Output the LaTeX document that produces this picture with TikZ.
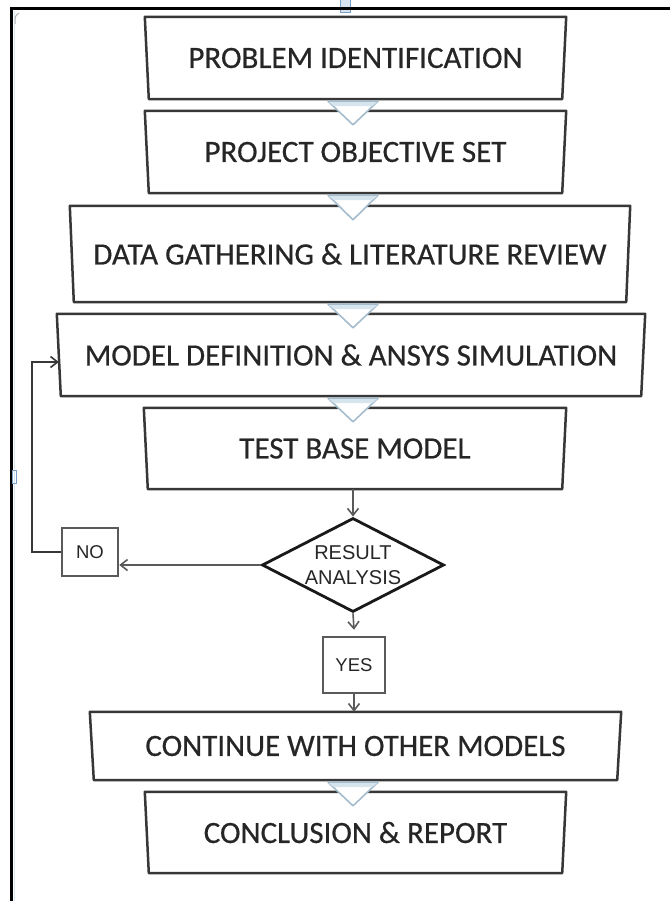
\documentclass[tikz,border=0pt]{standalone}
\usepackage{fontspec}
\setmainfont{Carlito}
\newfontfamily\stepfont[FakeBold=0.5]{Carlito}
\newfontfamily\arialfont{Liberation Sans}
\usetikzlibrary{shapes.geometric,arrows.meta,calc}
\definecolor{inkgray}{RGB}{38,38,38}
\definecolor{edgegray}{RGB}{55,55,55}
\definecolor{softgray}{RGB}{90,90,90}
\definecolor{chevron}{RGB}{165,188,205}
\definecolor{chevronband}{RGB}{214,228,238}
\definecolor{handle}{RGB}{120,160,200}
\definecolor{handlefaint}{RGB}{215,232,242}
\begin{document}
\begin{tikzpicture}[x=1pt,y=-1pt,
  stepbox/.style={rectangle, inner sep=0pt, text=inkgray,
    font=\stepfont\fontsize{31}{36}\selectfont},
  outline/.style={draw=edgegray, line width=2.5pt, line join=round},
  chev/.style={draw=chevron, fill=white, line width=1.6pt, line join=round},
  flow/.style={draw=softgray, line width=1.6pt,
    -{Straight Barb[length=7pt,width=11pt]}},
  tag/.style={rectangle, draw=softgray, line width=2.5pt, inner sep=0pt,
    text=inkgray, font=\arialfont\fontsize{18.5}{22}\selectfont},
  decision/.style={diamond, draw=black!90, line width=2.8pt, inner sep=0pt},
]
\useasboundingbox (0,0) rectangle (670,901);
\fill[white] (0,0) rectangle (670,901);

% process steps
\node[stepbox, minimum width=421pt, minimum height=82pt] (b1) at (355.5,58) {PROBLEM IDENTIFICATION};
\node[stepbox, minimum width=421pt, minimum height=82pt] (b2) at (355.5,152) {PROJECT OBJECTIVE SET};
\node[stepbox, minimum width=560pt, minimum height=96pt] (b3) at (350,254) {DATA GATHERING \& LITERATURE REVIEW};
\node[stepbox, minimum width=588pt, minimum height=82pt] (b4) at (351,355) {MODEL DEFINITION \& ANSYS SIMULATION};
\node[stepbox, minimum width=422pt, minimum height=81pt] (b5) at (355,448.5) {TEST BASE MODEL};
\node[stepbox, minimum width=531pt, minimum height=68pt] (b6) at (355.5,746) {CONTINUE WITH OTHER MODELS};
\node[stepbox, minimum width=421pt, minimum height=81pt] (b7) at (355.5,832.5) {CONCLUSION \& REPORT};

% slightly tapered outlines of the step boxes
\foreach \n in {b1,b2,b3,b4,b5,b6,b7}
  \draw[outline] (\n.north west) -- (\n.north east)
    -- ([xshift=-4pt]\n.south east) -- ([xshift=4pt]\n.south west) -- cycle;

% decision
\node[decision, minimum width=182pt, minimum height=94pt] (dia) at (353,565) {};
\node[font=\arialfont\fontsize{20}{25}\selectfont, text=inkgray, align=center]
  (dtxt) at (dia.center) {RESULT\\ANALYSIS};

\node[tag, minimum width=56pt, minimum height=48pt] (no) at (90,552) {NO};
\node[tag, minimum width=62pt, minimum height=56pt] (yes) at (354,665) {YES};

% chevrons between consecutive steps
\coordinate (axis) at (353,0);
\foreach \u/\l in {b1/b2,b2/b3,b3/b4,b4/b5,b6/b7}{
  \draw[chev] ($(\u.south -| axis)+(-25,2)$) -- ($(\u.south -| axis)+(25,2)$)
    -- ($(\l.north -| axis)+(0,14)$) -- cycle;
  \fill[chevronband] ($(\u.south -| axis)+(-24,3)$) -- ($(\u.south -| axis)+(24,3)$)
    -- ($(\u.south -| axis)+(19,7)$) -- ($(\u.south -| axis)+(-19,7)$) -- cycle;
}

% connectors
\draw[flow] (b5.south -| dia.north) -- (dia.north);
\draw[flow] (dia.west) -- (dia.west -| no.east);
\draw[flow] (dia.south) -- ($(yes.north)+(0,-6)$);
\draw[flow] (yes.south) -- (b6.north -| yes.south);
\coordinate (loop) at (32,0);
\draw[flow, draw=edgegray] (no.west) -- (no.west -| loop) |- ($(b4.west)+(2,7)$);

% frame and small handles
\draw[draw=handle, fill=handle!30, line width=0.8pt] (340,-1) rectangle (350,12);
\draw[handlefaint, line width=1.2pt] (14.5,11) -- (14.5,901);
\draw[black, line width=3pt] (10,9) -- (670,9);
\draw[black, line width=3pt] (11,9) -- (11,901);
\draw[handle, line width=1pt] (12,470) rectangle (16,483);
\draw[gray!60, line width=1pt] (19,13) .. controls (15,16) .. (15,24);
\end{tikzpicture}
\end{document}
